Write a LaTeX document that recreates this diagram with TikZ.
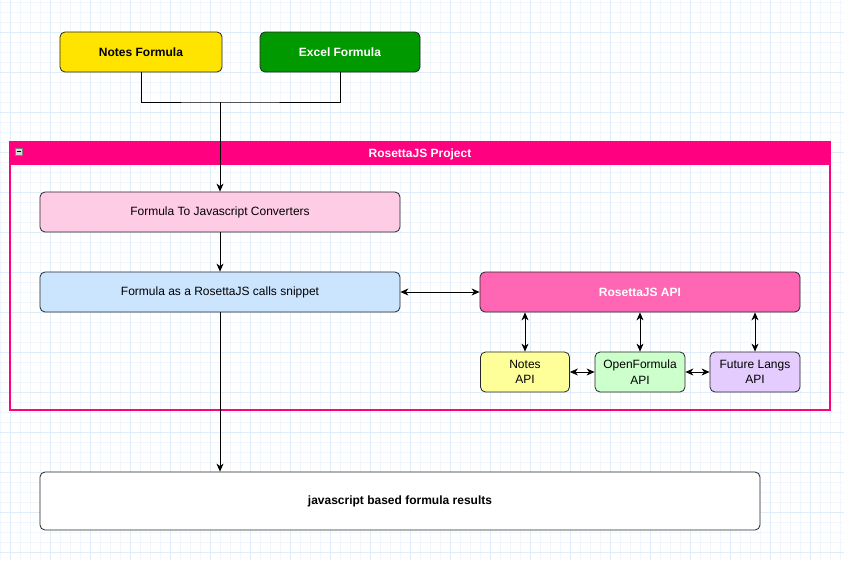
\documentclass[tikz,border=0pt]{standalone}
\usepackage{fontspec}
\setmainfont{Liberation Sans}
\usetikzlibrary{arrows.meta}

\definecolor{gridminor}{HTML}{F1F6FD}
\definecolor{gridmajor}{HTML}{E1ECF9}
\definecolor{notesyellow}{HTML}{FFE400}
\definecolor{excelgreen}{HTML}{009900}
\definecolor{rosettapink}{HTML}{FF0080}
\definecolor{convpink}{HTML}{FFCCE6}
\definecolor{snipblue}{HTML}{CCE5FF}
\definecolor{apipink}{HTML}{FF66B3}
\definecolor{napiyellow}{HTML}{FFFF99}
\definecolor{oapigreen}{HTML}{CCFFCC}
\definecolor{fapipurple}{HTML}{E5CCFF}

\tikzset{
  box/.style={draw=black!85, line width=0.8pt, rounded corners=5pt, inner sep=0pt,
    font=\fontsize{12}{15.5}\selectfont, align=center},
  boldbox/.style={box, font=\fontsize{12}{15.5}\selectfont\bfseries},
  link/.style={line width=0.8pt, -{Stealth[length=8pt,width=7pt,inset=2.5pt]}},
  duolink/.style={line width=0.8pt, {Stealth[length=8pt,width=7pt,inset=2.5pt]}-{Stealth[length=8pt,width=7pt,inset=2.5pt]}},
}

\begin{document}
\begin{tikzpicture}[x=1pt, y=-1pt]
  \useasboundingbox (0,0) rectangle (844,560);
  \fill[white] (0,0) rectangle (844,560);

  % background grid
  \foreach \gx in {0,10,...,840}
    \draw[gridminor, line width=0.5pt] (\gx,0) -- (\gx,560);
  \foreach \gy in {2,12,...,552}
    \draw[gridminor, line width=0.5pt] (0,\gy) -- (844,\gy);
  \foreach \gx in {10,50,...,810}
    \draw[gridmajor, line width=0.6pt] (\gx,0) -- (\gx,560);
  \foreach \gy in {32,72,...,552}
    \draw[gridmajor, line width=0.6pt] (0,\gy) -- (844,\gy);

  % project container
  \draw[rosettapink, line width=1.5pt] (10,142) rectangle (830,410);
  \fill[rosettapink] (10,142) rectangle (830,165);
  \node[text=white, font=\fontsize{12}{14}\selectfont\bfseries] (project) at (420,154) {RosettaJS Project};
  \draw[gray, fill=black!15, line width=0.5pt] (15,148) rectangle (22,155);
  \draw[black, line width=0.8pt] (16.5,151.5) -- (20.5,151.5);

  % inputs
  \node[boldbox, fill=notesyellow, minimum width=162pt, minimum height=40pt] (notes) at (141,52) {Notes Formula};
  \node[boldbox, fill=excelgreen, text=white, minimum width=160pt, minimum height=40pt] (excel) at (340,52) {Excel Formula};

  % pipeline
  \node[box, fill=convpink, minimum width=360pt, minimum height=40pt] (conv) at (220,212) {Formula To Javascript Converters};
  \node[box, fill=snipblue, minimum width=360pt, minimum height=40pt] (snippet) at (220,292) {Formula as a RosettaJS calls snippet};
  \node[boldbox, fill=white, minimum width=720pt, minimum height=58pt] (results) at (400,501) {javascript based formula results};

  % api
  \node[boldbox, fill=apipink, text=white, minimum width=320pt, minimum height=40pt] (api) at (640,292) {RosettaJS API};
  \node[box, fill=napiyellow, minimum width=89pt, minimum height=40pt] (napi) at (525,372) {Notes\\API};
  \node[box, fill=oapigreen, minimum width=90pt, minimum height=40pt] (oapi) at (640,372) {OpenFormula\\API};
  \node[box, fill=fapipurple, minimum width=90pt, minimum height=40pt] (fapi) at (755,372) {Future Langs\\API};

  % connectors
  \coordinate (join) at (220,102);
  \draw[line width=0.8pt] (notes.south) |- (join) -| (excel.south);
  \draw[link] (join) -- (conv.north);
  \draw[link] (conv.south) -- (snippet.north);
  \draw[link] (snippet.south) -- (results.north -| snippet.south);
  \draw[duolink] (snippet.east) -- (api.west);
  \draw[duolink] (api.south -| napi.north) -- (napi.north);
  \draw[duolink] (api.south) -- (oapi.north);
  \draw[duolink] (api.south -| fapi.north) -- (fapi.north);
  \draw[duolink] (napi.east) -- (oapi.west);
  \draw[duolink] (oapi.east) -- (fapi.west);
\end{tikzpicture}
\end{document}
